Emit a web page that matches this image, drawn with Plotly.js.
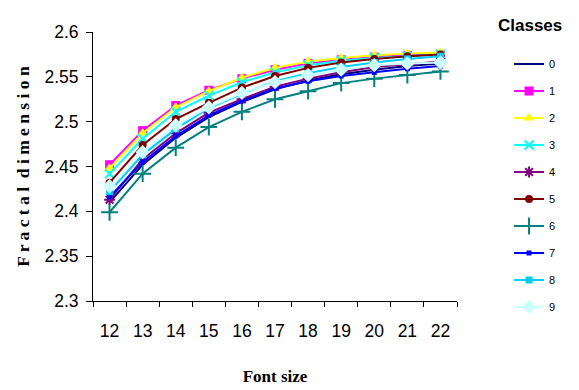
<!DOCTYPE html>
<html>
<head>
<meta charset="utf-8">
<script src="https://cdn.plot.ly/plotly-3.0.1.min.js"></script>
<style>html,body{margin:0;padding:0;background:#fff;}#chart{width:579px;height:390px;}</style>
</head>
<body>
<div id="chart"></div>
<script>
const fontSizes = ["12","13","14","15","16","17","18","19","20","21","22"];
const class0 = [2.410, 2.452, 2.482, 2.505, 2.522, 2.536, 2.546, 2.553, 2.558, 2.562, 2.565];
const class1 = [2.452, 2.490, 2.518, 2.535, 2.548, 2.558, 2.565, 2.569, 2.572, 2.574, 2.575];
const class2 = [2.448, 2.487, 2.516, 2.534, 2.549, 2.560, 2.567, 2.571, 2.574, 2.576, 2.577];
const class3 = [2.442, 2.481, 2.511, 2.529, 2.544, 2.555, 2.563, 2.568, 2.571, 2.573, 2.575];
const class4 = [2.413, 2.458, 2.487, 2.510, 2.525, 2.539, 2.548, 2.555, 2.561, 2.564, 2.567];
const class5 = [2.432, 2.474, 2.503, 2.521, 2.538, 2.551, 2.560, 2.566, 2.570, 2.573, 2.575];
const class6 = [2.399, 2.442, 2.471, 2.494, 2.511, 2.525, 2.534, 2.543, 2.548, 2.552, 2.556];
const class7 = [2.416, 2.455, 2.484, 2.507, 2.523, 2.537, 2.545, 2.551, 2.555, 2.559, 2.562];
const class8 = [2.422, 2.463, 2.492, 2.515, 2.531, 2.545, 2.554, 2.561, 2.566, 2.570, 2.573];
const class9 = [2.428, 2.466, 2.496, 2.516, 2.532, 2.544, 2.552, 2.558, 2.563, 2.565, 2.566];
const classNames = ["0","1","2","3","4","5","6","7","8","9"];
const yTicks = [2.3, 2.35, 2.4, 2.45, 2.5, 2.55, 2.6];
const yTickText = ["2.3","2.35","2.4","2.45","2.5","2.55","2.6"];

const series = [class0,class1,class2,class3,class4,class5,class6,class7,class8,class9];
const colors = ["#000080","#FF00FF","#FFFF00","#00FFFF","#800080","#800000","#008080","#0000FF","#00CCFF","#CCFFFF"];
const markers = [
  {symbol:"circle", size:1, opacity:0},
  {symbol:"square", size:9},
  {symbol:"triangle-up", size:10},
  {symbol:"x-thin-open", size:9, line:{width:2}},
  {symbol:"asterisk-open", size:9, line:{width:2}},
  {symbol:"circle", size:8},
  {symbol:"cross-thin-open", size:12, line:{width:2}},
  {symbol:"square", size:5},
  {symbol:"square", size:7},
  {symbol:"diamond", size:11}
];

const traces = series.map((ys, i) => {
  const m = Object.assign({color: colors[i]}, markers[i]);
  if (m.line) m.line = Object.assign({color: colors[i]}, m.line);
  return {
    type: "scatter",
    mode: i === 0 ? "lines" : "lines+markers",
    x: fontSizes,
    y: ys,
    name: classNames[i],
    legendgroup: "g" + i,
    line: {color: colors[i], width: 2},
    marker: m
  };
});

const layout = {
  width: 579, height: 390,
  margin: {l: 93, r: 122, t: 32, b: 89},
  paper_bgcolor: "#fff", plot_bgcolor: "#fff",
  font: {family: "Liberation Sans, Arial, sans-serif", color: "#000"},
  showlegend: true,
  legend: {
    x: 1.143, xanchor: "left", y: 0.935, yanchor: "top",
    font: {size: 11, family: "Liberation Sans, Arial, sans-serif"},
    tracegroupgap: 8,
    bgcolor: "rgba(0,0,0,0)"
  },
  xaxis: {
    type: "category",
    range: [-0.5, 10.5],
    tickson: "boundaries",
    ticks: "outside", ticklen: 5, tickcolor: "#000",
    showline: true, linecolor: "#000", linewidth: 1,
    showgrid: false, zeroline: false,
    tickfont: {size: 17.5},
    ticklabelstandoff: 14,
    title: {text: "Font size", font: {family: "Liberation Serif, Times New Roman, serif", size: 17, weight: "bold"}, standoff: 30}
  },
  yaxis: {
    range: [2.3, 2.6],
    tickmode: "array", tickvals: yTicks, ticktext: yTickText,
    ticks: "outside", ticklen: 6, tickcolor: "#000",
    showline: true, linecolor: "#000", linewidth: 1,
    showgrid: false, zeroline: false,
    tickfont: {size: 17.5},
    ticklabelstandoff: 4,
    title: {text: "F r a c t a l  d i m e n s i o n", font: {family: "Liberation Serif, Times New Roman, serif", size: 17.5, weight: "bold"}, standoff: 10}
  },
  annotations: [{
    text: "<b>Classes</b>", xref: "paper", yref: "paper",
    x: (530 - 93) / 364, y: (301 - 25) / 269, xanchor: "center", yanchor: "middle",
    showarrow: false, font: {size: 17, family: "Liberation Sans, Arial, sans-serif"}
  }]
};

Plotly.newPlot("chart", traces, layout, {displayModeBar: false, staticPlot: true});
</script>
</body>
</html>
